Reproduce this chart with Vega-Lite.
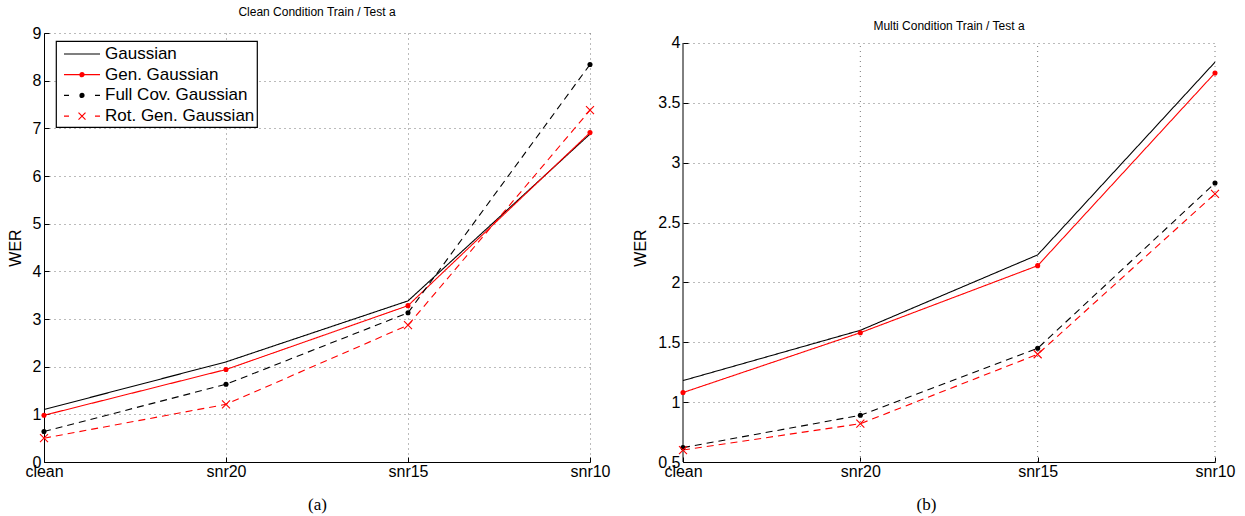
{
  "$schema": "https://vega.github.io/schema/vega-lite/v6.json",
  "background": "white",
  "padding": {"left": 7, "top": 6, "right": 5, "bottom": 5},
  "spacing": 21,
  "config": {
    "font": "Liberation Sans",
    "view": {"stroke": null},
    "axis": {
      "domainColor": "black", "domainWidth": 1,
      "tickColor": "black", "tickSize": -5, "tickWidth": 1,
      "labelFont": "Liberation Sans", "labelFontSize": 16, "labelColor": "black",
      "titleFont": "Liberation Sans", "titleFontSize": 16, "titleFontWeight": "normal", "titleColor": "black",
      "grid": true, "gridColor": "#777777", "gridDash": [1, 4], "gridWidth": 1, "gridOpacity": 1
    },
    "legend": {
      "title": null,
      "orient": "none",
      "symbolSize": 400,
      "symbolStrokeWidth": 1.2,
      "labelFont": "Liberation Sans",
      "labelFontSize": 17,
      "labelColor": "black",
      "labelOffset": 25,
      "strokeColor": "black",
      "strokeWidth": 1.2,
      "fillColor": "white",
      "padding": 2,
      "rowPadding": 1.7
    }
  },
  "data": {"values": [
    {"panel": "a", "cond": "clean", "series": "Gaussian", "wer": 1.10},
    {"panel": "a", "cond": "snr20", "series": "Gaussian", "wer": 2.10},
    {"panel": "a", "cond": "snr15", "series": "Gaussian", "wer": 3.38},
    {"panel": "a", "cond": "snr10", "series": "Gaussian", "wer": 6.88},
    {"panel": "a", "cond": "clean", "series": "Gen. Gaussian", "wer": 0.98},
    {"panel": "a", "cond": "snr20", "series": "Gen. Gaussian", "wer": 1.94},
    {"panel": "a", "cond": "snr15", "series": "Gen. Gaussian", "wer": 3.28},
    {"panel": "a", "cond": "snr10", "series": "Gen. Gaussian", "wer": 6.91},
    {"panel": "a", "cond": "clean", "series": "Full Cov. Gaussian", "wer": 0.64},
    {"panel": "a", "cond": "snr20", "series": "Full Cov. Gaussian", "wer": 1.63},
    {"panel": "a", "cond": "snr15", "series": "Full Cov. Gaussian", "wer": 3.13},
    {"panel": "a", "cond": "snr10", "series": "Full Cov. Gaussian", "wer": 8.34},
    {"panel": "a", "cond": "clean", "series": "Rot. Gen. Gaussian", "wer": 0.50},
    {"panel": "a", "cond": "snr20", "series": "Rot. Gen. Gaussian", "wer": 1.21},
    {"panel": "a", "cond": "snr15", "series": "Rot. Gen. Gaussian", "wer": 2.87},
    {"panel": "a", "cond": "snr10", "series": "Rot. Gen. Gaussian", "wer": 7.38},
    {"panel": "b", "cond": "clean", "series": "Gaussian", "wer": 1.18},
    {"panel": "b", "cond": "snr20", "series": "Gaussian", "wer": 1.60},
    {"panel": "b", "cond": "snr15", "series": "Gaussian", "wer": 2.23},
    {"panel": "b", "cond": "snr10", "series": "Gaussian", "wer": 3.84},
    {"panel": "b", "cond": "clean", "series": "Gen. Gaussian", "wer": 1.08},
    {"panel": "b", "cond": "snr20", "series": "Gen. Gaussian", "wer": 1.58},
    {"panel": "b", "cond": "snr15", "series": "Gen. Gaussian", "wer": 2.14},
    {"panel": "b", "cond": "snr10", "series": "Gen. Gaussian", "wer": 3.75},
    {"panel": "b", "cond": "clean", "series": "Full Cov. Gaussian", "wer": 0.62},
    {"panel": "b", "cond": "snr20", "series": "Full Cov. Gaussian", "wer": 0.89},
    {"panel": "b", "cond": "snr15", "series": "Full Cov. Gaussian", "wer": 1.45},
    {"panel": "b", "cond": "snr10", "series": "Full Cov. Gaussian", "wer": 2.83},
    {"panel": "b", "cond": "clean", "series": "Rot. Gen. Gaussian", "wer": 0.60},
    {"panel": "b", "cond": "snr20", "series": "Rot. Gen. Gaussian", "wer": 0.82},
    {"panel": "b", "cond": "snr15", "series": "Rot. Gen. Gaussian", "wer": 1.40},
    {"panel": "b", "cond": "snr10", "series": "Rot. Gen. Gaussian", "wer": 2.74}
  ]},
  "hconcat": [
    {
      "width": 546,
      "height": 429,
      "title": {"text": "Clean Condition Train / Test a", "font": "Liberation Sans", "fontSize": 12, "fontWeight": "normal", "color": "black", "offset": 6, "anchor": "middle"},
      "transform": [{"filter": "datum.panel === 'a'"}],
      "encoding": {
        "x": {"field": "cond", "type": "nominal", "sort": ["clean", "snr20", "snr15", "snr10"],
              "scale": {"type": "point", "padding": 0},
              "axis": {"title": "(a)", "labelAngle": 0, "labelPadding": 6, "titleFont": "Liberation Serif", "titleFontSize": 17, "titlePadding": 17}},
        "y": {"field": "wer", "type": "quantitative",
              "scale": {"domain": [0, 9], "nice": false, "zero": false},
              "axis": {"title": "WER", "values": [0, 1, 2, 3, 4, 5, 6, 7, 8, 9], "format": "~g", "labelPadding": 8, "titlePadding": 9}}
      },
      "layer": [
        {
          "mark": {"type": "line", "strokeWidth": 1.1},
          "encoding": {
            "detail": {"field": "series", "type": "nominal"},
            "color": {"condition": {"test": "datum.series === 'Gen. Gaussian' || datum.series === 'Rot. Gen. Gaussian'", "value": "#ff0000"}, "value": "#000000"},
            "strokeDash": {"condition": {"test": "datum.series === 'Full Cov. Gaussian' || datum.series === 'Rot. Gen. Gaussian'", "value": [7, 5]}, "value": [1, 0]}
          }
        },
        {
          "transform": [{"filter": "datum.series === 'Gen. Gaussian' || datum.series === 'Full Cov. Gaussian'"}],
          "mark": {"type": "point", "filled": true, "size": 26, "opacity": 1},
          "encoding": {
            "color": {"condition": {"test": "datum.series === 'Gen. Gaussian'", "value": "#ff0000"}, "value": "#000000"}
          }
        },
        {
          "transform": [{"filter": "datum.series === 'Rot. Gen. Gaussian'"}],
          "mark": {"type": "point", "shape": "M-1,-1L1,1M-1,1L1,-1", "filled": false, "size": 64, "color": "#ff0000", "strokeWidth": 1.1, "opacity": 1}
        },
        {
          "mark": {"type": "point", "opacity": 0, "filled": true, "strokeWidth": 1.2},
          "encoding": {
            "fill": {"field": "series", "type": "nominal",
                     "scale": {"domain": ["Gaussian", "Gen. Gaussian", "Full Cov. Gaussian", "Rot. Gen. Gaussian"], "range": ["#000000", "#ff0000", "#000000", "#ff0000"]},
                     "legend": {"title": null, "legendX": 12, "legendY": 8}},
            "stroke": {"field": "series", "type": "nominal",
                     "scale": {"domain": ["Gaussian", "Gen. Gaussian", "Full Cov. Gaussian", "Rot. Gen. Gaussian"], "range": ["#000000", "#ff0000", "#000000", "#ff0000"]},
                     "legend": {"title": null, "legendX": 12, "legendY": 8}},
            "shape": {"field": "series", "type": "nominal",
                     "scale": {"domain": ["Gaussian", "Gen. Gaussian", "Full Cov. Gaussian", "Rot. Gen. Gaussian"],
                               "range": [
                                 "M-0.5,0H3.1",
                                 "M-0.5,0H3.1M1.5,0A0.2,0.2,0,1,1,1.1,0A0.2,0.2,0,1,1,1.5,0M1.42,0A0.12,0.12,0,1,1,1.18,0A0.12,0.12,0,1,1,1.42,0M1.35,0A0.05,0.05,0,1,1,1.25,0A0.05,0.05,0,1,1,1.35,0",
                                 "M-0.5,0H0M2.6,0H3.1M1.5,0A0.2,0.2,0,1,1,1.1,0A0.2,0.2,0,1,1,1.5,0M1.42,0A0.12,0.12,0,1,1,1.18,0A0.12,0.12,0,1,1,1.42,0M1.35,0A0.05,0.05,0,1,1,1.25,0A0.05,0.05,0,1,1,1.35,0",
                                 "M-0.5,0H0M2.6,0H3.1M0.95,-0.35L1.65,0.35M0.95,0.35L1.65,-0.35"
                               ]},
                     "legend": {"title": null, "legendX": 12, "legendY": 8}}
          }
        }
      ]
    },
    {
      "width": 532,
      "height": 429,
      "title": {"text": "Multi Condition Train / Test a", "font": "Liberation Sans", "fontSize": 12, "fontWeight": "normal", "color": "black", "offset": 0, "anchor": "middle"},
      "transform": [{"filter": "datum.panel === 'b'"}],
      "encoding": {
        "x": {"field": "cond", "type": "nominal", "sort": ["clean", "snr20", "snr15", "snr10"],
              "scale": {"type": "point", "padding": 0},
              "axis": {"title": "(b)", "labelAngle": 0, "labelPadding": 6, "titleFont": "Liberation Serif", "titleFontSize": 17, "titlePadding": 17, "titleX": 243, "grid": false}},
        "y": {"field": "wer", "type": "quantitative",
              "scale": {"domain": [0.5, 4.0835], "nice": false, "zero": false},
              "axis": {"title": "WER", "values": [0.5, 1, 1.5, 2, 2.5, 3, 3.5, 4], "format": "~g", "labelPadding": 8, "titlePadding": 9, "domain": false}}
      },
      "layer": [
        {
          "transform": [{"filter": "datum.series === 'Gaussian' && datum.cond !== 'clean'"}],
          "mark": {"type": "rule", "color": "#777777", "strokeWidth": 1, "strokeDash": [1, 4]},
          "encoding": {
            "y": {"datum": 0.5, "type": "quantitative"},
            "y2": {"datum": 4}
          }
        },
        {
          "transform": [{"filter": "datum.series === 'Gaussian' && datum.cond === 'clean'"}],
          "mark": {"type": "rule", "color": "#000000", "strokeWidth": 1},
          "encoding": {
            "y": {"datum": 0.5, "type": "quantitative"},
            "y2": {"datum": 4}
          }
        },
        {
          "mark": {"type": "line", "strokeWidth": 1.1},
          "encoding": {
            "detail": {"field": "series", "type": "nominal"},
            "color": {"condition": {"test": "datum.series === 'Gen. Gaussian' || datum.series === 'Rot. Gen. Gaussian'", "value": "#ff0000"}, "value": "#000000"},
            "strokeDash": {"condition": {"test": "datum.series === 'Full Cov. Gaussian' || datum.series === 'Rot. Gen. Gaussian'", "value": [7, 5]}, "value": [1, 0]}
          }
        },
        {
          "transform": [{"filter": "datum.series === 'Gen. Gaussian' || datum.series === 'Full Cov. Gaussian'"}],
          "mark": {"type": "point", "filled": true, "size": 26, "opacity": 1},
          "encoding": {
            "color": {"condition": {"test": "datum.series === 'Gen. Gaussian'", "value": "#ff0000"}, "value": "#000000"}
          }
        },
        {
          "transform": [{"filter": "datum.series === 'Rot. Gen. Gaussian'"}],
          "mark": {"type": "point", "shape": "M-1,-1L1,1M-1,1L1,-1", "filled": false, "size": 64, "color": "#ff0000", "strokeWidth": 1.1, "opacity": 1}
        },
        {
          "mark": {"type": "point", "opacity": 0, "filled": true, "strokeWidth": 1.2},
          "encoding": {
            "fill": {"field": "series", "type": "nominal",
                     "scale": {"domain": ["Gaussian", "Gen. Gaussian", "Full Cov. Gaussian", "Rot. Gen. Gaussian"], "range": ["#000000", "#ff0000", "#000000", "#ff0000"]},
                     "legend": {"title": null, "legendX": 11, "legendY": 18}},
            "stroke": {"field": "series", "type": "nominal",
                     "scale": {"domain": ["Gaussian", "Gen. Gaussian", "Full Cov. Gaussian", "Rot. Gen. Gaussian"], "range": ["#000000", "#ff0000", "#000000", "#ff0000"]},
                     "legend": {"title": null, "legendX": 11, "legendY": 18}},
            "shape": {"field": "series", "type": "nominal",
                     "scale": {"domain": ["Gaussian", "Gen. Gaussian", "Full Cov. Gaussian", "Rot. Gen. Gaussian"],
                               "range": [
                                 "M-0.5,0H3.1",
                                 "M-0.5,0H3.1M1.5,0A0.2,0.2,0,1,1,1.1,0A0.2,0.2,0,1,1,1.5,0M1.42,0A0.12,0.12,0,1,1,1.18,0A0.12,0.12,0,1,1,1.42,0M1.35,0A0.05,0.05,0,1,1,1.25,0A0.05,0.05,0,1,1,1.35,0",
                                 "M-0.5,0H0M2.6,0H3.1M1.5,0A0.2,0.2,0,1,1,1.1,0A0.2,0.2,0,1,1,1.5,0M1.42,0A0.12,0.12,0,1,1,1.18,0A0.12,0.12,0,1,1,1.42,0M1.35,0A0.05,0.05,0,1,1,1.25,0A0.05,0.05,0,1,1,1.35,0",
                                 "M-0.5,0H0M2.6,0H3.1M0.95,-0.35L1.65,0.35M0.95,0.35L1.65,-0.35"
                               ]},
                     "legend": {"title": null, "legendX": 11, "legendY": 18}}
          }
        }
      ]
    }
  ]
}
